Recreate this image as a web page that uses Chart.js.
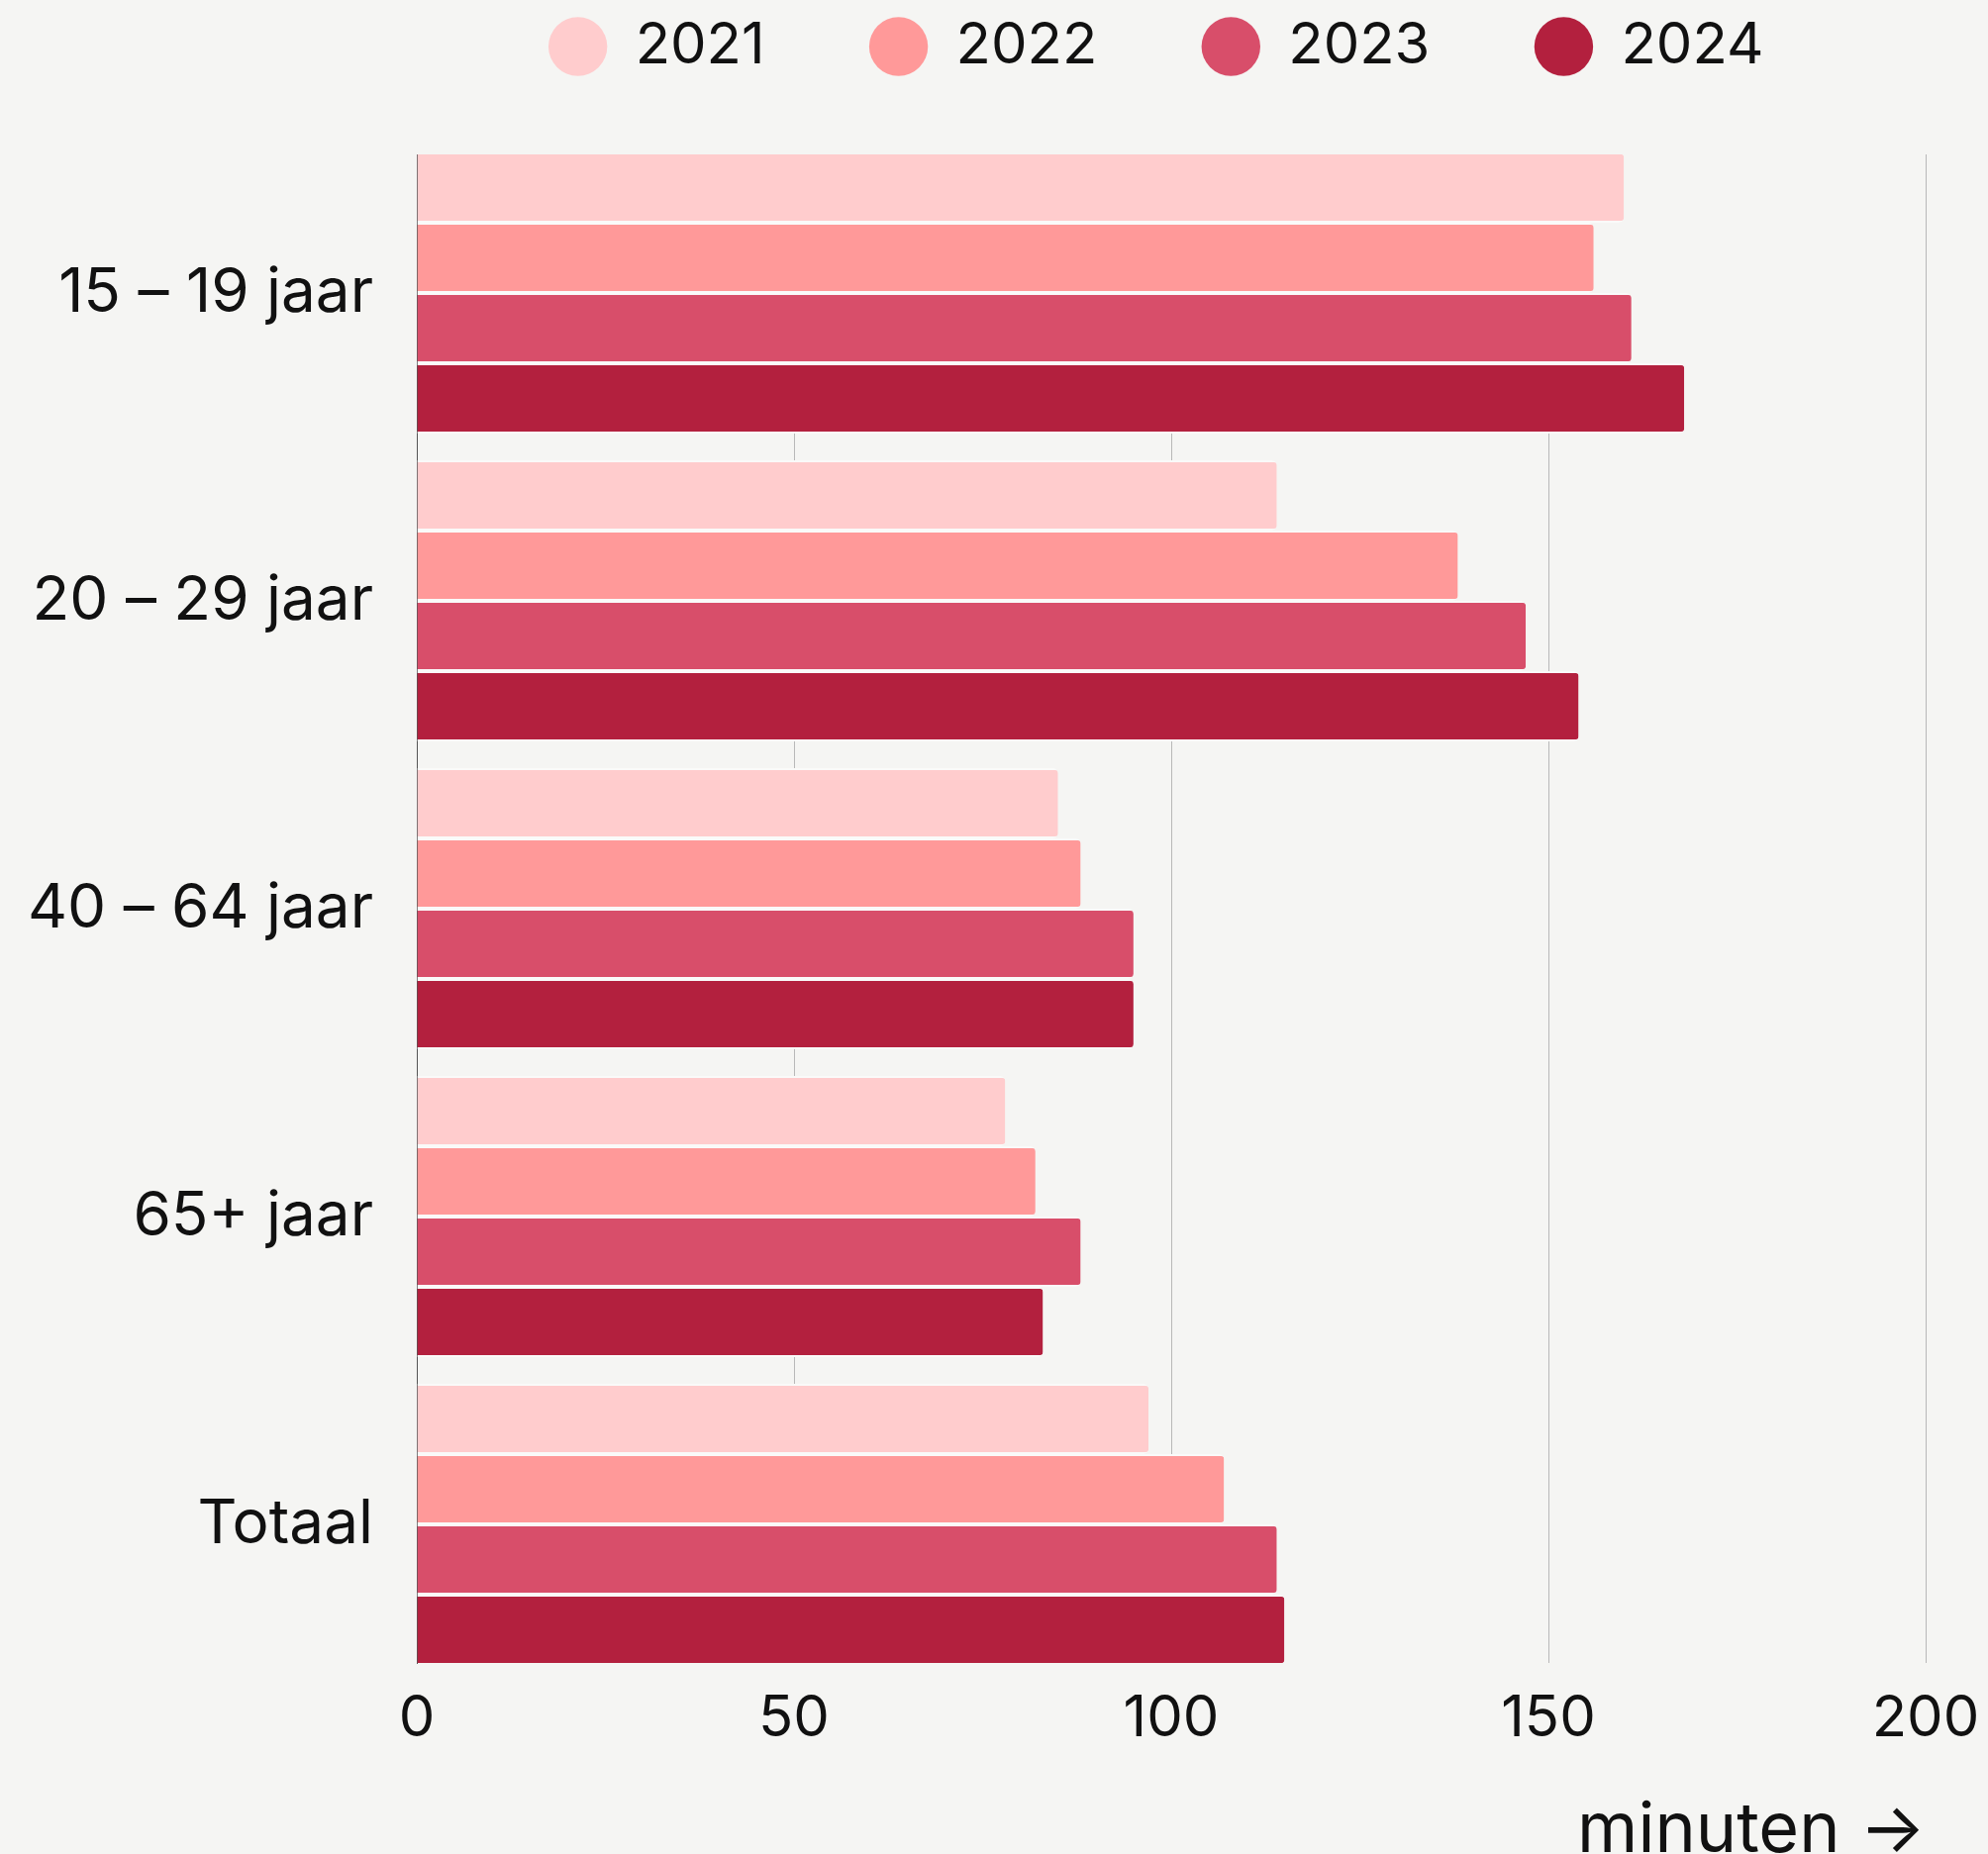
<!DOCTYPE html>
<html>
<head>
<meta charset="utf-8">
<script src="https://cdn.jsdelivr.net/npm/chart.js@4"></script>
<style>
  html, body { margin: 0; background: #f5f5f3; }
  #wrap { width: 2008px; height: 1873px; }
</style>
</head>
<body>
<div id="wrap"><canvas id="chart"></canvas></div>
<script>
// minuten per dag, per leeftijdsgroep en jaar
const CATEGORIES = ["15 – 19 jaar", "20 – 29 jaar", "40 – 64 jaar", "65+ jaar", "Totaal"];
const YEARS = ["2021", "2022", "2023", "2024"];
const V2021 = [160, 114, 85, 78, 97];
const V2022 = [156, 138, 88, 82, 107];
const V2023 = [161, 147, 95, 88, 114];
const V2024 = [168, 154, 95, 83, 115];
const X_TICKS = [0, 50, 100, 150, 200];
const X_TITLE = "minuten →";

const COLORS = ["#ffcccd", "#ff9999", "#d84e6a", "#b3203e"];
const INK = "#111";
const FONT = "Inter";

const dataset = (label, values, color) => ({
  label,
  data: values.map((v, i) => ({ x: v, y: i })),
  backgroundColor: color,
  borderColor: "#fafaf9",
  borderWidth: { top: 2, bottom: 2, left: 0, right: 0 },
  borderSkipped: "start",
  borderRadius: 5,
  categoryPercentage: 0.913,
  barPercentage: 1,
});

// legend: fixed block height and drawn higher than the label padding would put it
const legendBox = {
  id: "legendBox",
  beforeLayout(chart) {
    const lg = chart.legend;
    if (!lg || lg._wrapped) return;
    const fit = lg.fit.bind(lg);
    lg.fit = () => { fit(); lg.height = 156; };
    lg._wrapped = true;
  },
  afterLayout(chart) {
    const lg = chart.legend;
    lg.top = 18 - lg.options.labels.padding;
    lg.left -= 15; lg.right -= 15;
  },
};

new Chart(document.getElementById("chart").getContext("2d"), {
  type: "bar",
  data: {
    datasets: [
      dataset(YEARS[0], V2021, COLORS[0]),
      dataset(YEARS[1], V2022, COLORS[1]),
      dataset(YEARS[2], V2023, COLORS[2]),
      dataset(YEARS[3], V2024, COLORS[3]),
    ],
  },
  plugins: [legendBox],
  options: {
    indexAxis: "y",
    responsive: true,
    maintainAspectRatio: false,
    animation: false,
    layout: { padding: { top: 0, right: 63, bottom: 0, left: 0 } },
    plugins: {
      tooltip: { enabled: false },
      legend: {
        position: "top",
        fullSize: false,
        labels: {
          usePointStyle: true,
          pointStyle: "circle",
          boxHeight: 42,
          boxWidth: 58,
          padding: 106,
          color: INK,
          font: { family: FONT, size: 58 },
          generateLabels: chart => chart.data.datasets.map((d, i) => ({
            text: d.label, fillStyle: d.backgroundColor, strokeStyle: d.backgroundColor,
            lineWidth: 0, pointStyle: "circle", datasetIndex: i, hidden: false, fontColor: INK,
          })),
        },
      },
    },
    scales: {
      x: {
        type: "linear", min: 0, max: 200,
        afterBuildTicks: s => { s.ticks = X_TICKS.map(v => ({ value: v })); },
        afterFit: s => { s.height = 193; s.paddingLeft = 0; s.paddingRight = 0; },
        ticks: { color: INK, font: { family: FONT, size: 58 }, padding: 22 },
        grid: { color: c => (c.tick && c.tick.value === 0 ? "#555" : "#b8b8b8"), lineWidth: 1, drawTicks: false },
        border: { display: false },
        title: {
          display: true, text: X_TITLE, align: "end", color: INK,
          font: { family: FONT, size: 70, lineHeight: 0.66 }, padding: 0,
        },
      },
      y: {
        type: "linear", reverse: true, offset: false, min: -0.45, max: 4.45,
        afterBuildTicks: s => { s.ticks = CATEGORIES.map((_, i) => ({ value: i })); },
        afterFit: s => { s.width = 421; },
        ticks: { color: INK, font: { family: FONT, size: 62 }, padding: 44, callback: v => CATEGORIES[v] },
        grid: { display: false, drawTicks: false },
        border: { display: true, color: "#555", width: 1 },
      },
    },
  },
});
</script>
</body>
</html>
